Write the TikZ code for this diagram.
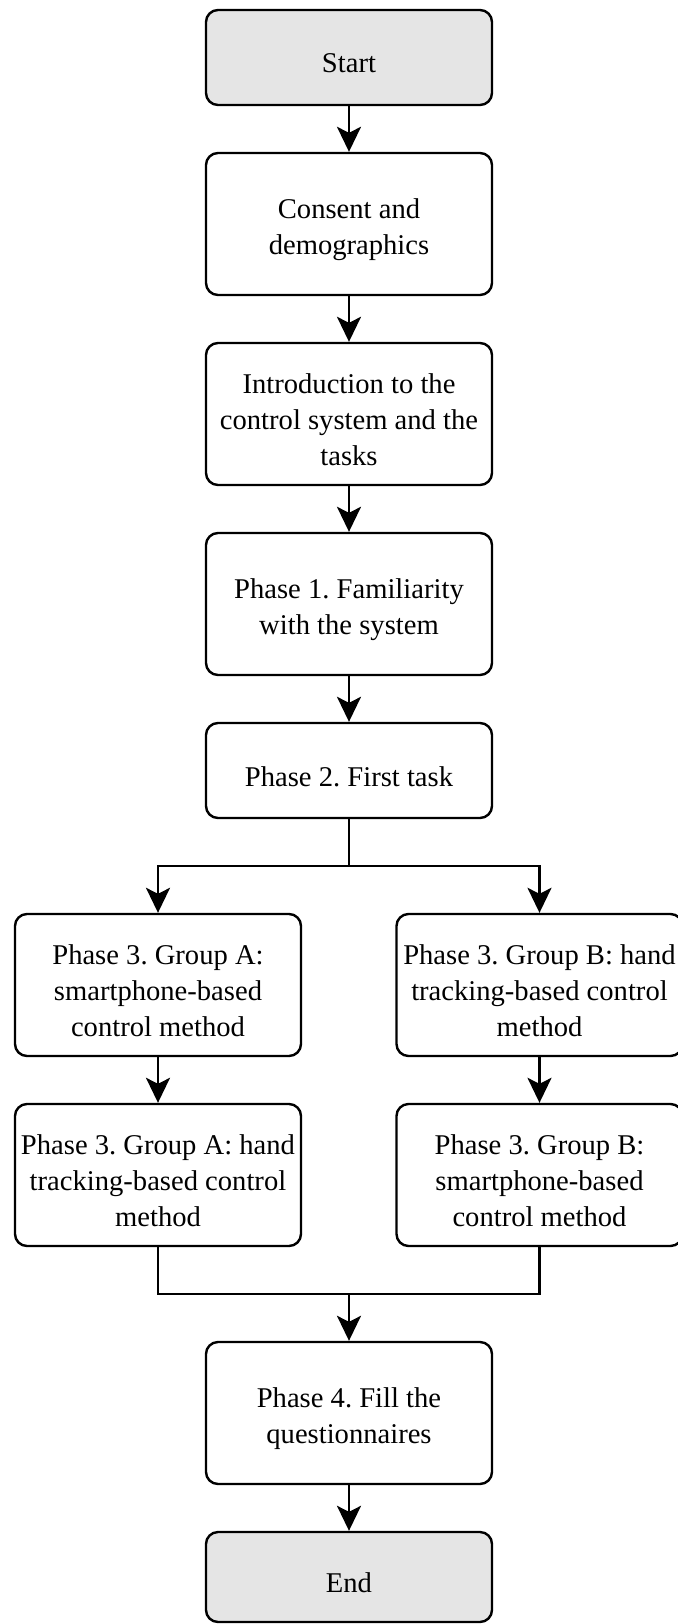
\documentclass[tikz,border=0pt]{standalone}
\usepackage{fontspec}
\setmainfont{Liberation Serif}
\frenchspacing
\usetikzlibrary{arrows.meta}
\begin{document}
\begin{tikzpicture}[x=0.5pt,y=-0.5pt,
  box/.style={draw=black,line width=1.2pt,rounded corners=6pt,fill=white,
    minimum width=143pt,inner sep=0pt},
  txt/.style={align=center,inner sep=0pt,yshift=-3pt,
    font=\fontsize{14.3}{18}\selectfont},
  tall/.style={box,minimum height=71pt,label={[txt]center:{#1}}},
  short/.style={box,minimum height=47.5pt,label={[txt]center:{#1}}},
  term/.style={short={#1},fill=gray!20},
  link/.style={line width=1.2pt,-{Stealth[length=12.5pt,width=12pt,inset=3pt]}},
  plain/.style={line width=1.2pt}]
\useasboundingbox (0,0) rectangle (678,1624);
\node[term={Start}] (start) at (349,57.5) {};
\node[tall={Consent and\\demographics}] (cons) at (349,224) {};
\node[tall={Introduction to the\\control system and the\\tasks}] (intro) at (349,414) {};
\node[tall={Phase 1. Familiarity\\with the system}] (ph1) at (349,604) {};
\node[short={Phase 2. First task}] (ph2) at (349,770.5) {};
\node[tall={Phase 3. Group A:\\smartphone-based\\control method}] (a1) at (158,985) {};
\node[tall={Phase 3. Group B: hand\\tracking-based control\\method}] (b1) at (539.5,985) {};
\node[tall={Phase 3. Group A: hand\\tracking-based control\\method}] (a2) at (158,1175) {};
\node[tall={Phase 3. Group B:\\smartphone-based\\control method}] (b2) at (539.5,1175) {};
\node[tall={Phase 4. Fill the\\questionnaires}] (ph4) at (349,1413) {};
\node[term={End},minimum height=45pt] (end) at (349,1577) {};
\coordinate (split) at (349,866);
\coordinate (join)  at (349,1294);
\draw[link] (start) -- (cons);
\draw[link] (cons) -- (intro);
\draw[link] (intro) -- (ph1);
\draw[link] (ph1) -- (ph2);
\draw[plain] (ph2) -- (split);
\draw[link] (split) -| (a1);
\draw[link] (split) -| (b1);
\draw[link] (a1) -- (a2);
\draw[link] (b1) -- (b2);
\draw[plain] (a2) |- (join);
\draw[plain] (b2) |- (join);
\draw[link] (join) -- (ph4);
\draw[link] (ph4) -- (end);
\end{tikzpicture}
\end{document}
